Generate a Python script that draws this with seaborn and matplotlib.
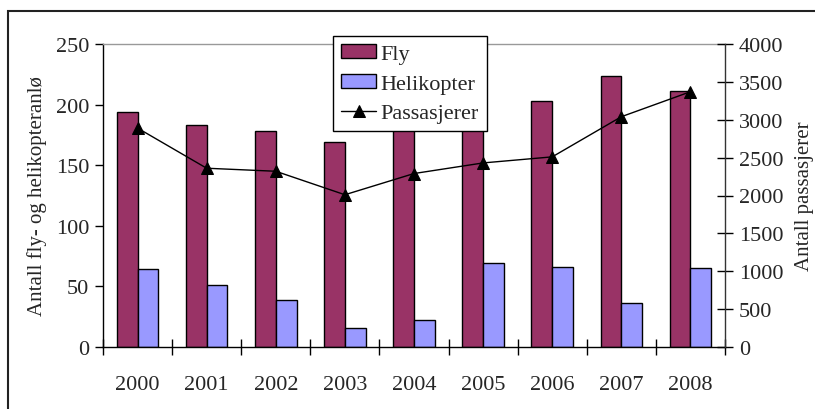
import numpy as np
import pandas as pd
import matplotlib
matplotlib.use("Agg")
import matplotlib.pyplot as plt
from matplotlib.patches import Rectangle
import seaborn as sns

years = ["2000", "2001", "2002", "2003", "2004", "2005", "2006", "2007", "2008"]
fly = [194, 183, 178, 169, 185, 180, 203, 224, 211]
helikopter = [64, 51, 39, 16, 22, 69, 66, 36, 65]
passasjerer = [2890, 2360, 2320, 2010, 2290, 2430, 2510, 3040, 3370]

series_names = ["Fly", "Helikopter"]
colors = ["#993366", "#9999FF"]

sns.set_theme(style="white")
plt.rcParams["font.family"] = ["Liberation Serif", "DejaVu Serif"]
FS = 16
LFS = 15

df = pd.DataFrame({
    "year": years * 2,
    "value": fly + helikopter,
    "series": [series_names[0]] * len(years) + [series_names[1]] * len(years),
})

fig = plt.figure(figsize=(8.15, 4.1), dpi=100)
ax = fig.add_axes([103 / 815, 1 - 348 / 410, (725 - 103) / 815, (348 - 45) / 410])

sns.barplot(data=df, x="year", y="value", hue="series", palette=colors,
            width=0.6, gap=0, edgecolor="black", linewidth=1.0, saturation=1,
            ax=ax, legend=True)

ax.set_xlim(-0.5, len(years) - 0.5)
ax.set_ylim(0, 250)
ax.set_yticks([0, 50, 100, 150, 200, 250])
ax.set_xlabel("")
ax.set_ylabel("")

ax2 = ax.twinx()
xpos = np.arange(len(years))
sns.lineplot(x=xpos, y=passasjerer, ax=ax2, color="black", linewidth=1.0,
             marker="^", markersize=8, markeredgecolor="black",
             label="Passasjerer", legend=False)
ax2.set_ylim(0, 4000)
ax2.set_yticks(np.arange(0, 4001, 500))
ax2.set_xlim(-0.5, len(years) - 0.5)

# spines
for a in (ax, ax2):
    for s in a.spines.values():
        s.set_visible(False)
ax.spines["left"].set_visible(True)
ax.spines["left"].set_color("black")
ax.spines["bottom"].set_visible(True)
ax.spines["bottom"].set_color("black")
ax.spines["top"].set_visible(True)
ax.spines["top"].set_color("#999999")
ax.spines["top"].set_linewidth(1.0)
ax2.spines["right"].set_visible(True)
ax2.spines["right"].set_color("#333333")
for s in ("left", "bottom"):
    ax.spines[s].set_linewidth(1.0)
ax2.spines["right"].set_linewidth(1.0)

# ticks
ax.set_xticks(xpos)
ax.set_xticklabels(years, fontsize=FS)
ax.set_xticks(np.arange(-0.5, len(years), 1.0), minor=True)
ax.tick_params(axis="x", which="major", length=0, pad=20)
ax.tick_params(axis="x", which="minor", direction="inout", length=12,
               width=1, color="black", bottom=True)
ax.tick_params(axis="y", direction="out", length=6, width=1, color="black",
               labelsize=FS, left=True, pad=4)
ax2.tick_params(axis="y", direction="inout", length=12, width=1, color="black",
                labelsize=FS, right=True, pad=4)

ax.grid(False)
ax2.grid(False)

# labels
fig.text(37 / 815, 1 - 196 / 410, "Antall fly- og helikopteranlø", rotation=90,
         ha="center", va="center", fontsize=LFS)
fig.text(804 / 815, 1 - 196 / 410, "Antall passasjerer", rotation=90,
         ha="center", va="center", fontsize=LFS)

# legend
h1, l1 = ax.get_legend_handles_labels()
h2, l2 = ax2.get_legend_handles_labels()
ax.get_legend().remove()
leg = fig.legend(h1 + h2, l1 + l2, loc="upper left",
                 bbox_to_anchor=(333 / 815, 1 - 37 / 410),
                 fontsize=FS, frameon=True, fancybox=False,
                 edgecolor="black", framealpha=1, borderpad=0.35,
                 handlelength=1.6, handleheight=0.6, handletextpad=0.2,
                 labelspacing=0.45, borderaxespad=0)
leg.get_frame().set_linewidth(1.0)
leg.set_zorder(10)

# outer border
fig.add_artist(Rectangle((8 / 815, -0.1), 1.2, 1.1 - 12 / 410,
                         transform=fig.transFigure, fill=False,
                         edgecolor="#222222", linewidth=1.5, zorder=20))

fig.savefig("out.png", dpi=100)
